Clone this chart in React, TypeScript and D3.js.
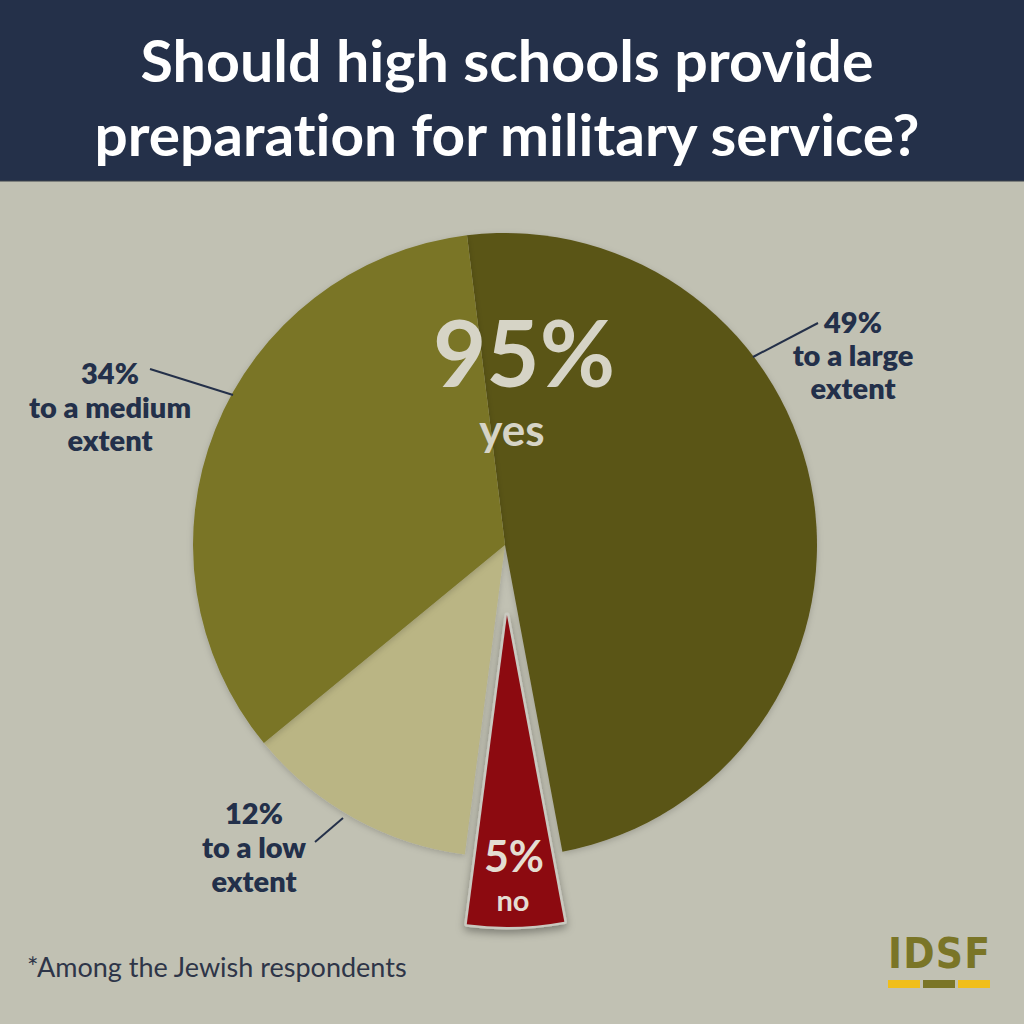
import React from "react";
import * as d3 from "d3";

const categories = ["to a large extent", "no", "to a low extent", "to a medium extent"];
const values = [49, 5, 12, 34];
const colors = ["#5a5419", "#8c0a10", "#bab584", "#7a7527"];
const titleLines = ["Should high schools provide", "preparation for military service?"];
const labelBlocks = [
  { key: "to a large extent", lines: ["49%", "to a large", "extent"] },
  { key: "to a medium extent", lines: ["34%", "to a medium", "extent"] },
  { key: "to a low extent", lines: ["12%", "to a low", "extent"] },
];

const W = 1024;
const H = 1024;
const cx = 505;
const cy = 545;
const R = 312;
const explode = 70;
const startDeg = -7;

export default function App() {
  const pie = d3
    .pie<number>()
    .sort(null)
    .startAngle((startDeg * Math.PI) / 180)
    .endAngle((startDeg * Math.PI) / 180 + 2 * Math.PI);
  const arcs = pie(values);
  const arc = d3.arc<d3.PieArcDatum<number>>().innerRadius(0).outerRadius(R);

  const labelPos: Record<string, { x: number; y: number[]; line: number[] }> = {
    "to a large extent": { x: 853, y: [333, 366, 399], line: [818, 323, 753, 357] },
    "to a medium extent": { x: 110, y: [384, 418, 451], line: [150, 369, 233, 395] },
    "to a low extent": { x: 254, y: [824, 858, 892], line: [343, 818, 315, 842] },
  };

  const font = "Lato, 'Open Sans', sans-serif";
  const noLig = { fontVariantLigatures: "none" as const, fontFeatureSettings: "'liga' 0" };

  return (
    <svg width={W} height={H} style={{ position: "absolute", left: 0, top: 0, ...noLig }}>
      <defs>
        <filter id="shadow" x="-30%" y="-30%" width="160%" height="160%">
          <feDropShadow dx="0" dy="4" stdDeviation="4" floodColor="#000" floodOpacity="0.35" />
        </filter>
        <filter id="soft" x="-10%" y="-10%" width="120%" height="120%">
          <feDropShadow dx="0" dy="2" stdDeviation="3" floodColor="#000" floodOpacity="0.18" />
        </filter>
      </defs>
      <rect x={0} y={0} width={W} height={H} fill="#c1c1b3" />
      <rect x={0} y={0} width={W} height={181} fill="#243049" />
      <rect x={0} y={180} width={W} height={2} fill="#3a3f48" opacity={0.5} />
      <text x={507} y={82} textAnchor="middle" fill="#ffffff" fontFamily={font} fontWeight={700} fontSize={58} textLength={733} lengthAdjust="spacingAndGlyphs" style={noLig}>
        {titleLines[0]}
      </text>
      <text x={507} y={156} textAnchor="middle" fill="#ffffff" fontFamily={font} fontWeight={700} fontSize={58} textLength={825} lengthAdjust="spacingAndGlyphs" style={noLig}>
        {titleLines[1]}
      </text>

      <g transform={`translate(${cx},${cy})`}>
        {arcs.map((a, i) => {
          if (categories[i] === "no") return null;
          return <path key={categories[i]} d={arc(a) || ""} fill={colors[i]} filter="url(#soft)" />;
        })}
        {arcs.map((a, i) => {
          if (categories[i] !== "no") return null;
          const mid = (a.startAngle + a.endAngle) / 2;
          const dx = Math.sin(mid) * explode;
          const dy = -Math.cos(mid) * explode;
          return (
            <g key="no" transform={`translate(${dx},${dy})`}>
              <path d={arc(a) || ""} fill={colors[i]} stroke="#c9c9c0" strokeWidth={5} strokeLinejoin="round" filter="url(#shadow)" />
              <path d={arc(a) || ""} fill={colors[i]} />
            </g>
          );
        })}
      </g>

      <text x={524} y={387} textAnchor="middle" fill="#d6d4c6" fontFamily={font} fontWeight={700} fontSize={92}>
        95%
      </text>
      <text x={512} y={446} textAnchor="middle" fill="#d6d4c6" fontFamily={font} fontWeight={700} fontSize={44}>
        yes
      </text>
      <text x={514} y={872} textAnchor="middle" fill="#e4ddd2" fontFamily={font} fontWeight={700} fontSize={43}>
        5%
      </text>
      <text x={513} y={911} textAnchor="middle" fill="#e4ddd2" fontFamily={font} fontWeight={700} fontSize={29}>
        no
      </text>

      {labelBlocks.map((b) => {
        const p = labelPos[b.key];
        return (
          <g key={b.key}>
            <line x1={p.line[0]} y1={p.line[1]} x2={p.line[2]} y2={p.line[3]} stroke="#243049" strokeWidth={2} />
            {b.lines.map((t, j) => (
              <text key={j} x={p.x} y={p.y[j]} textAnchor="middle" fill="#23304a" fontFamily={font} fontWeight={800} fontSize={29}>
                {t}
              </text>
            ))}
          </g>
        );
      })}

      <text x={27} y={977} fill="#2e3548" fontFamily={font} fontWeight={400} fontSize={27}>
        *Among the Jewish respondents
      </text>

      <text x={939} y={968} textAnchor="middle" fill="#7a7527" fontFamily="'DejaVu Sans Condensed', 'DejaVu Sans', sans-serif" fontWeight={700} fontSize={42} textLength={102} lengthAdjust="spacing">
        IDSF
      </text>
      <rect x={888} y={980} width={32} height={8} fill="#f0be1a" />
      <rect x={923} y={980} width={32} height={8} fill="#7a7527" />
      <rect x={958} y={980} width={32} height={8} fill="#f0be1a" />
    </svg>
  );
}
